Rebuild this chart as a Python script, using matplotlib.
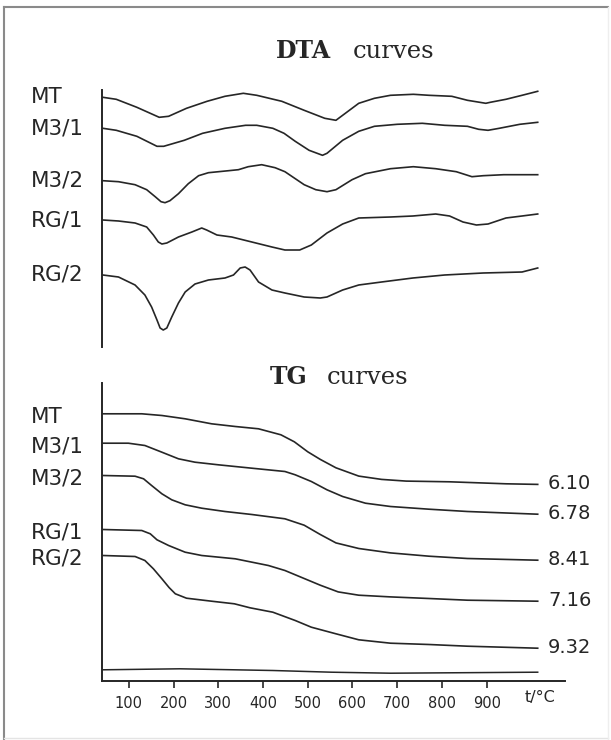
import matplotlib.pyplot as plt
from matplotlib.transforms import blended_transform_factory

# sample names
samples = ['MT', 'M3/1', 'M3/2', 'RG/1', 'RG/2']

# DTA curves: temperature (°C) and deflection (arb. units, up = exo)
dta_t_mt = [42, 72, 118, 168, 189, 229, 275, 315, 356, 386, 442, 492, 538, 563, 578,
            614, 649, 685, 736, 771, 822, 857, 898, 908, 943, 979, 1014]
dta_mt = [0, -2, -10, -20, -19, -11, -4, 1, 4, 2, -4, -13, -21, -23, -18,
          -6, -1, 2, 3, 2, 1, -3, -6, -5, -2, 2, 6]

dta_t_m31 = [42, 72, 118, 163, 178, 224, 265, 315, 361, 386, 422, 447, 472, 503, 533,
             543, 578, 614, 649, 700, 756, 806, 857, 882, 903, 928, 974, 1014]
dta_m31 = [0, -2, -8, -18, -18, -12, -5, 0, 3, 3, 0, -5, -13, -22, -27,
           -25, -12, -3, 2, 4, 5, 3, 2, -1, -2, 0, 4, 6]

dta_t_m32 = [42, 77, 114, 140, 159, 172, 181, 192, 211, 233, 256, 278, 323, 345, 367, 397,
             427, 449, 492, 518, 543, 563, 599, 629, 685, 736, 786, 832, 867, 892, 938, 1014]
dta_m32 = [0, -1, -4, -9, -16, -21, -22, -20, -13, -3, 5, 8, 10, 11, 14, 16,
           13, 9, -4, -9, -11, -9, 1, 7, 12, 14, 12, 9, 4, 5, 6, 6]

dta_t_rg1 = [42, 77, 114, 140, 155, 166, 174, 185, 211, 241, 263, 274, 297, 330, 375, 420,
             449, 482, 508, 543, 578, 614, 685, 735, 786, 817, 847, 877, 903, 943, 979, 1014]
dta_rg1 = [0, -1, -3, -7, -15, -22, -24, -23, -17, -12, -8, -10, -15, -17, -22, -27,
           -30, -30, -25, -13, -4, 2, 3, 4, 6, 4, -2, -5, -4, 2, 4, 6]

dta_t_rg2 = [42, 77, 114, 136, 151, 163, 170, 177, 185, 196, 211, 226, 248, 278, 315, 334, 349,
             360, 371, 390, 420, 449, 492, 528, 543, 578, 614, 665, 735, 806, 892, 979, 1014]
dta_rg2 = [0, -2, -10, -20, -32, -45, -53, -55, -53, -42, -28, -17, -9, -5, -3, 0, 7,
           8, 5, -7, -15, -18, -22, -23, -22, -15, -10, -7, -3, 0, 2, 3, 7]

# TG curves: temperature (°C) and mass drop (arb. units)
tg_t_mt = [42, 129, 174, 226, 285, 338, 390, 440, 470, 500, 528, 563, 614, 665, 720, 817, 943, 1014]
tg_mt = [0, 0, 1.7, 5, 10, 12.7, 15, 21, 28, 38, 45.6, 54, 62.3, 65.6, 67.3, 68, 70, 70.6]

tg_t_m31 = [42, 99, 136, 174, 211, 248, 300, 375, 449, 472, 508, 543, 578, 629, 685, 771, 857, 1014]
tg_m31 = [0, 0, 2.3, 9, 15.6, 19, 21.6, 25, 28.3, 31.6, 38.3, 46.6, 53.3, 60, 63.3, 66, 68.3, 71]

tg_t_m32 = [42, 114, 133, 151, 174, 196, 226, 263, 315, 375, 449, 492, 528, 563, 614, 685, 771, 857, 1014]
tg_m32 = [0, 0.7, 3.3, 10, 18.3, 24.3, 29.3, 32.7, 36, 39, 43.3, 49.7, 59, 67.4, 73, 77.4, 80.7, 83, 84.7]

tg_t_rg1 = [42, 129, 148, 163, 189, 226, 263, 338, 412, 449, 492, 528, 568, 614, 685, 771, 857, 1014]
tg_rg1 = [0, 1, 4.3, 10.3, 16, 22.7, 26, 29.3, 36, 41, 49, 55.7, 62.4, 65.7, 67.4, 69, 70.7, 71.7]

tg_t_rg2 = [42, 114, 136, 155, 174, 190, 204, 229, 285, 336, 371, 422, 472, 508, 563, 614, 685, 771, 857, 1014]
tg_rg2 = [0, 1, 5, 13.3, 23.3, 32, 38.3, 42.7, 45.7, 48.3, 52.3, 56.7, 65, 71.7, 78.3, 84.3, 87.7, 89, 90.7, 92.7]

tg_t_base = [42, 214, 422, 553, 685, 1014]
tg_base = [10.7, 11.7, 10, 8.3, 7.3, 8.3]

# total mass loss (%)
mass_loss = ['6.10', '6.78', '8.41', '7.16', '9.32']

xticks = [100, 200, 300, 400, 500, 600, 700, 800, 900]

# stacking levels of the curves (layout)
dta_levels = [249.7, 218.7, 166.3, 127, 72]
tg_levels = [266.7, 237.3, 205, 151, 125]

ink = '#262626'
sans = ['DejaVu Sans']

fig = plt.figure(figsize=(6.11, 7.40), dpi=100)
W, H = 611, 740


def frac(x0, y_top, x1, y_bot):
    return [x0 / W, 1 - y_bot / H, (x1 - x0) / W, (y_bot - y_top) / H]


ax1 = fig.add_axes(frac(101.5, 90, 565, 347))
ax2 = fig.add_axes(frac(101.5, 383, 565, 680.5))

for ax in (ax1, ax2):
    ax.set_xlim(39, 1075)
    for s in ['top', 'right']:
        ax.spines[s].set_visible(False)
    ax.spines['left'].set_color(ink)
    ax.spines['left'].set_linewidth(1.4)
    ax.set_yticks([])

ax1.set_ylim(0, 257)
ax1.spines['bottom'].set_visible(False)
ax1.set_xticks([])

ax2.set_ylim(0, 297.5)
ax2.spines['bottom'].set_color(ink)
ax2.spines['bottom'].set_linewidth(1.4)
ax2.set_xticks(xticks)
ax2.set_xticklabels([str(t) for t in xticks], family=sans, fontsize=10.5, color=ink)
ax2.tick_params(axis='x', direction='out', length=5, width=1.2, pad=6, color=ink)

dta_t = [dta_t_mt, dta_t_m31, dta_t_m32, dta_t_rg1, dta_t_rg2]
dta_v = [dta_mt, dta_m31, dta_m32, dta_rg1, dta_rg2]
tg_t = [tg_t_mt, tg_t_m31, tg_t_m32, tg_t_rg1, tg_t_rg2]
tg_v = [tg_mt, tg_m31, tg_m32, tg_rg1, tg_rg2]

lbl_x1 = blended_transform_factory(fig.transFigure, ax1.transData)
lbl_x2 = blended_transform_factory(fig.transFigure, ax2.transData)

for name, t, v, lev in zip(samples, dta_t, dta_v, dta_levels):
    ax1.plot(t, [lev + d for d in v], color=ink, lw=1.2, solid_joinstyle='round')
    ax1.text(31 / W, lev, name, transform=lbl_x1, ha='left', va='center',
             family=sans, fontsize=15.5, color=ink)

for name, t, v, lev, ml in zip(samples, tg_t, tg_v, tg_levels, mass_loss):
    ys = [lev - d for d in v]
    ax2.plot(t, ys, color=ink, lw=1.2, solid_joinstyle='round')
    ax2.text(31 / W, lev - 3, name, transform=lbl_x2, ha='left', va='center',
             family=sans, fontsize=15.5, color=ink)
    ax2.text(1037, ys[-1] + 1, ml, ha='left', va='center', family=sans,
             fontsize=14, color=ink)

ax2.plot(tg_t_base, tg_base, color=ink, lw=1.1)

ax2.text(1019, -0.057, 't/°C', transform=blended_transform_factory(ax2.transData, ax2.transAxes),
         ha='center', va='center', family=sans, fontsize=11.5, color=ink)

# panel titles
fig.text(331 / W, 1 - 58 / H, 'DTA', ha='right', va='baseline', family='DejaVu Serif',
         fontweight='bold', fontsize=17, color=ink)
fig.text(353 / W, 1 - 58 / H, 'curves', ha='left', va='baseline', family='DejaVu Serif',
         fontsize=17.5, color=ink)
fig.text(308 / W, 1 - 384 / H, 'TG', ha='right', va='baseline', family='DejaVu Serif',
         fontweight='bold', fontsize=17, color=ink)
fig.text(327 / W, 1 - 384 / H, 'curves', ha='left', va='baseline', family='DejaVu Serif',
         fontsize=17.5, color=ink)

# scanned page frame
fig.add_artist(plt.Line2D([4 / W, 608 / W], [1 - 7 / H, 1 - 7 / H], transform=fig.transFigure,
                          color='#8a8a8a', lw=1.5))
fig.add_artist(plt.Line2D([4 / W, 4 / W], [1 - 7 / H, 0], transform=fig.transFigure,
                          color='#8a8a8a', lw=1.5))
fig.add_artist(plt.Line2D([4 / W, 608 / W], [2 / H, 2 / H], transform=fig.transFigure,
                          color='#e4e4e4', lw=1))
fig.add_artist(plt.Line2D([608 / W, 608 / W], [0, 1 - 7 / H], transform=fig.transFigure,
                          color='#eeeeee', lw=1))

fig.savefig('out.png', dpi=100)
